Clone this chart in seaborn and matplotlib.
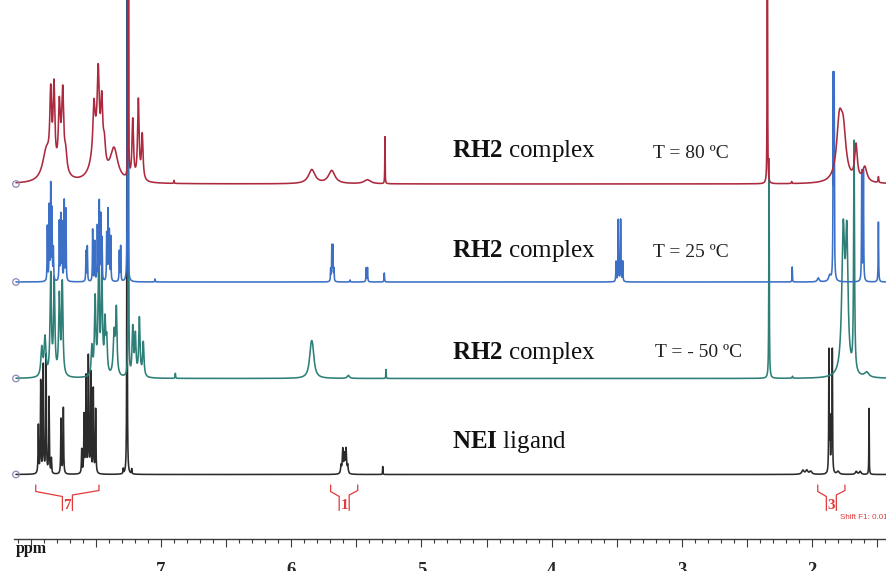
import numpy as np
import pandas as pd
import matplotlib
matplotlib.use("Agg")
import matplotlib.pyplot as plt
from matplotlib.ticker import MultipleLocator, FuncFormatter
import seaborn as sns

sns.set_theme(style="white")
plt.rcParams["font.family"] = ["Liberation Serif", "DejaVu Serif"]
plt.rcParams["mathtext.fontset"] = "custom"
plt.rcParams["mathtext.rm"] = "Liberation Serif"
plt.rcParams["mathtext.bf"] = "Liberation Serif:bold"

# ---------------- peak tables: shift (ppm), intensity, half-width (ppm) ----------------
red_shift = [7.880, 7.760, 7.847, 7.822, 7.781, 7.755, 7.732, 7.500, 7.515, 7.482, 7.455, 7.435,
             7.361, 7.251, 7.217, 7.174, 7.144, 6.900, 5.842, 5.689, 5.415, 5.280,
             2.343, 2.156, 1.790, 1.760, 1.662, 1.595, 1.490]
red_height = [30, 22, 72, 82, 58, 65, 15, 35, 45, 78, 60, 22,
              32, 900, 60, 80, 45, 3, 14, 13, 4, 47,
              900, 2, 55, 45, 35, 15, 6]
red_width = [0.035, 0.030, 0.008, 0.008, 0.008, 0.008, 0.010, 0.040, 0.009, 0.009, 0.009, 0.010,
             0.035, 0.001, 0.007, 0.007, 0.007, 0.002, 0.030, 0.030, 0.030, 0.0015,
             0.001, 0.003, 0.025, 0.025, 0.012, 0.020, 0.003]

blue_shift = [7.873, 7.858, 7.847, 7.837, 7.827, 7.781, 7.770, 7.760, 7.743, 7.730,
              7.576, 7.566, 7.525, 7.509, 7.489, 7.474, 7.463, 7.453, 7.417, 7.407,
              7.397, 7.386, 7.320, 7.310, 7.257, 7.046,
              5.697, 5.688, 5.680, 5.672, 5.548, 5.424, 5.414, 5.285,
              3.505, 3.488, 3.470, 3.454, 2.152, 1.952, 1.864,
              1.837, 1.830, 1.618, 1.605, 1.490]
blue_height = [55, 74, 95, 70, 32, 59, 65, 57, 80, 72,
               30, 35, 52, 40, 55, 79, 65, 42, 47, 70,
               49, 44, 30, 35, 900, 3,
               12, 35, 35, 12, 2, 14, 14, 9,
               20, 62, 62, 20, 15, 4, 6,
               195, 195, 110, 110, 60]
blue_width = [0.002] * 24 + [0.0012, 0.002] + \
             [0.002] * 8 + \
             [0.002] * 4 + [0.0015, 0.008, 0.010] + \
             [0.002] * 5

teal_shift = [7.916, 7.891, 7.847, 7.820, 7.781, 7.758, 7.531, 7.506, 7.479, 7.455,
              7.430, 7.417, 7.360, 7.343, 7.250, 7.217, 7.197, 7.166, 7.136, 6.890,
              5.848, 5.836, 5.561, 5.272, 2.330, 2.150, 1.760, 1.733, 1.677, 1.580]
teal_height = [28, 38, 100, 94, 78, 92, 28, 76, 104, 104,
               50, 32, 42, 64, 900, 48, 40, 58, 34, 5,
               22, 22, 3, 9, 220, 2, 140, 130, 230, 5]
teal_width = [0.008, 0.008, 0.006, 0.006, 0.006, 0.006, 0.006, 0.006, 0.006, 0.006,
              0.006, 0.006, 0.008, 0.006, 0.0012, 0.006, 0.006, 0.006, 0.006, 0.002,
              0.015, 0.015, 0.010, 0.0015, 0.002, 0.003, 0.013, 0.011, 0.004, 0.020]

black_shift = [7.942, 7.924, 7.904, 7.883, 7.860, 7.842, 7.768, 7.750,
               7.609, 7.591, 7.576, 7.558, 7.540, 7.520, 7.502,
               7.290, 7.261, 7.225,
               5.617, 5.604, 5.591, 5.579, 5.566, 5.297,
               2.070, 2.040, 2.010, 1.870, 1.862, 1.852, 1.844,
               1.800, 1.660, 1.630, 1.562]
black_height = [48, 92, 108, 118, 76, 15, 55, 66,
                24, 58, 96, 116, 100, 84, 64,
                5, 900, 5,
                8, 24, 18, 24, 8, 8,
                4, 4, 3, 122, 50, 50, 122,
                3, 3, 3, 66]
black_width = [0.0025] * 15 + [0.002, 0.0012, 0.002] + \
              [0.004] * 5 + [0.0015] + \
              [0.010, 0.010, 0.010, 0.002, 0.002, 0.002, 0.002] + \
              [0.010, 0.008, 0.008, 0.0015]

# integral regions and their values
integral_from = [7.962, 5.697, 1.956]
integral_to = [7.476, 5.489, 1.747]
integral_value = ["7", "1", "3"]

# axis labels
tick_ppm = [7, 6, 5, 4, 3, 2]
tick_labels = ["7", "6", "5", "4", "3", "2"]

# ---------------- build the stacked spectra ----------------
shift = np.linspace(8.114, 1.40, 24000)


def lorentz_sum(centres, heights, widths):
    c = np.asarray(centres, float)[:, None]
    h = np.asarray(heights, float)[:, None]
    w = np.asarray(widths, float)[:, None]
    return (h / (1.0 + ((shift[None, :] - c) / w) ** 2)).sum(axis=0)


traces = {
    "NEI": (black_shift, black_height, black_width, 64.5),
    "-50": (teal_shift, teal_height, teal_width, 160.5),
    "25": (blue_shift, blue_height, blue_width, 257.0),
    "80": (red_shift, red_height, red_width, 355.0),
}
frames = []
for name, (c, h, w, off) in traces.items():
    frames.append(pd.DataFrame({"shift": shift,
                                "signal": off + lorentz_sum(c, h, w),
                                "sample": name}))
df = pd.concat(frames, ignore_index=True)

palette = {"NEI": "#2b2b2b", "-50": "#2e7f78", "25": "#3b70c6", "80": "#ad2a3e"}

W, H = 887, 571
fig = plt.figure(figsize=(W / 100, H / 100), dpi=100)
ax = fig.add_axes([14 / W, 32 / H, 873 / W, 539 / H])

sns.lineplot(data=df, x="shift", y="signal", hue="sample",
             hue_order=["NEI", "-50", "25", "80"], palette=palette,
             estimator=None, sort=False, lw=1.15, legend=False, ax=ax)

# start-of-trace markers
starts = pd.DataFrame({"shift": [shift[0]] * 4,
                       "signal": [t[3] for t in traces.values()]})
ax.scatter(starts["shift"], starts["signal"], s=22, facecolors="none",
           edgecolors="#8a8ab8", linewidths=0.9, zorder=5, clip_on=False)

ax.set_xlim(8.129, 1.424)
ax.set_ylim(0, 539)
ax.set_xlabel("")
ax.set_ylabel("")
ax.set_yticks([])
for side in ("top", "right", "left"):
    ax.spines[side].set_visible(False)
ax.spines["bottom"].set_color("#3a3a3a")
ax.spines["bottom"].set_linewidth(1.0)

label_map = dict(zip(tick_ppm, tick_labels))
ax.xaxis.set_major_locator(MultipleLocator(0.5))
ax.xaxis.set_minor_locator(MultipleLocator(0.1))
ax.xaxis.set_major_formatter(FuncFormatter(
    lambda v, p: label_map.get(int(round(v)), "") if abs(v - round(v)) < 1e-6 else ""))
ax.tick_params(axis="x", which="major", direction="out", length=6, width=0.8,
               color="#3a3a3a", pad=10.5, labelsize=13.5)
ax.tick_params(axis="x", which="minor", direction="out", length=3, width=0.8,
               color="#3a3a3a")
ax.tick_params(axis="x", which="both", bottom=True)
for lab in ax.get_xticklabels():
    lab.set_fontweight("bold")

ax.text(8.129 - 0.01, -14.3, "ppm", fontsize=11.5, fontweight="bold",
        ha="left", va="baseline", clip_on=False, color="#1a1a1a")

# integral brackets
red_ink = "#e3393b"
gap = 5 / 130.2
for lo, hi, val in zip(integral_from, integral_to, integral_value):
    mid = (lo + hi) / 2
    ax.plot([lo, lo, mid + gap, mid + gap], [54, 47.5, 42.5, 28.5],
            color=red_ink, lw=0.9, solid_joinstyle="miter")
    ax.plot([mid - gap, mid - gap, hi, hi], [28.5, 44, 48.5, 54],
            color=red_ink, lw=0.9, solid_joinstyle="miter")
    ax.text(mid, 33.5, val, color=red_ink, fontsize=11, fontweight="bold",
            ha="center", va="center")

ax.text(1.785, 20, "Shift F1: 0.01", color=red_ink, fontsize=5.8,
        family=["Liberation Sans", "DejaVu Sans"], ha="left", va="baseline",
        clip_on=False)

# sample annotations
name_x = 4.767
temp_x = 3.219
ax.text(name_x, 539 - 156.7, r"$\mathbf{RH2}$ complex", fontsize=18,
        ha="left", va="baseline", color="#111111")
ax.text(temp_x, 539 - 158.3, "T = 80 ºC", fontsize=14, ha="left",
        va="baseline", color="#222222")
ax.text(name_x, 539 - 256.7, r"$\mathbf{RH2}$ complex", fontsize=18,
        ha="left", va="baseline", color="#111111")
ax.text(temp_x, 539 - 257.0, "T = 25 ºC", fontsize=14, ha="left",
        va="baseline", color="#222222")
ax.text(name_x, 539 - 359.3, r"$\mathbf{RH2}$ complex", fontsize=18,
        ha="left", va="baseline", color="#111111")
ax.text(temp_x - 0.012, 539 - 356.7, "T = - 50 ºC", fontsize=14, ha="left",
        va="baseline", color="#222222")
ax.text(name_x, 539 - 448.3, r"$\mathbf{NEI}$ ligand", fontsize=18,
        ha="left", va="baseline", color="#111111")

fig.savefig("out.png", dpi=100, facecolor="white")
